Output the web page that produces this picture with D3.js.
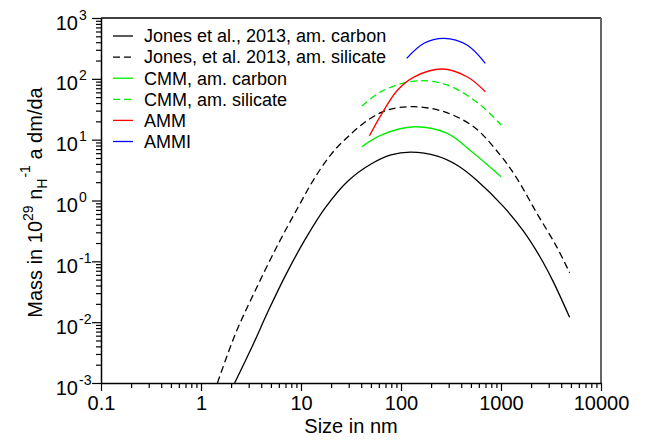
<!DOCTYPE html>
<html>
<head>
<meta charset="utf-8">
<script src="https://cdn.jsdelivr.net/npm/d3@7"></script>
<style>
  body { margin: 0; background: #fff; }
  text { font-family: 'Liberation Sans', Arial, sans-serif; fill: #000; }
</style>
</head>
<body>
<script>
const width = 655
const height = 441
const margin = { top: 18, right: 50, bottom: 58, left: 101 }

// sizes in nm, mass values
const jonesCarbonSize = [2.17, 3.24, 4.75, 7.21, 11.0, 17.3, 29.5, 50.2, 79.4, 125, 231, 365, 575, 1059, 1671, 2443, 3319, 4853]
const jonesCarbonMass = [0.001, 0.00394, 0.0158, 0.0646, 0.229, 0.741, 2.09, 3.98, 5.62, 6.24, 5.37, 3.80, 2.14, 0.794, 0.316, 0.120, 0.0468, 0.0120]
const jonesSilicateSize = [1.46, 2.22, 3.51, 5.97, 9.42, 13.3, 20.0, 29.5, 46.7, 73.6, 136, 269, 533, 979, 1435, 2265, 3573, 4853]
const jonesSilicateMass = [0.001, 0.00656, 0.0338, 0.198, 0.791, 2.17, 5.75, 11.2, 21.0, 30.8, 34.8, 28.8, 16.3, 5.62, 2.34, 0.631, 0.178, 0.065]
const cmmCarbonSize = [40.6, 63.2, 136, 290, 533, 1000]
const cmmCarbonMass = [7.65, 11.9, 16.3, 12.7, 5.97, 2.46]
const cmmSilicateSize = [40.6, 63.1, 136, 290, 621, 1000]
const cmmSilicateMass = [35.7, 61.5, 92, 79.3, 37.2, 17.4]
const ammSize = [48.4, 63.1, 92.5, 136, 259, 457, 697]
const ammMass = [11.6, 25.4, 65.5, 108, 145, 108, 61.5]
const ammiSize = [114, 170, 269, 457, 697]
const ammiMass = [217, 384, 463, 360, 180]

const xTicks = [0.1, 1, 10, 100, 1000, 10000]
const yExponents = [-3, -2, -1, 0, 1, 2, 3]

const series = [
  { label: 'Jones et al., 2013, am. carbon', size: jonesCarbonSize, mass: jonesCarbonMass, color: '#000', dash: null },
  { label: 'Jones, et al. 2013, am. silicate', size: jonesSilicateSize, mass: jonesSilicateMass, color: '#000', dash: '7,4' },
  { label: 'CMM, am. carbon', size: cmmCarbonSize, mass: cmmCarbonMass, color: '#00ee00', dash: null },
  { label: 'CMM, am. silicate', size: cmmSilicateSize, mass: cmmSilicateMass, color: '#00ee00', dash: '7,4' },
  { label: 'AMM', size: ammSize, mass: ammMass, color: '#ff0000', dash: null },
  { label: 'AMMI', size: ammiSize, mass: ammiMass, color: '#0000ff', dash: null }
]

const svg = d3.select('body')
  .append('svg')
  .attr('width', width)
  .attr('height', height)

const x = d3.scaleLog()
  .domain([0.1, 10000])
  .range([margin.left, width - margin.right - 4])

const y = d3.scaleLog()
  .domain([1e-3, 1e3])
  .range([height - margin.bottom, margin.top])

const minorX = []
for (let d = 0.1; d < 10000; d *= 10) {
  for (let k = 2; k < 10; k++) minorX.push(d * k)
}
const minorY = []
for (let e = -3; e < 3; e++) {
  for (let k = 2; k < 10; k++) minorY.push(k * Math.pow(10, e))
}

const x0 = x.range()[0]
const x1 = x.range()[1]
const y0 = y.range()[0]
const y1 = y.range()[1]

// frame top and right
svg.append('line')
  .attr('x1', x0).attr('x2', x1).attr('y1', y1).attr('y2', y1)
  .attr('stroke', '#000').attr('stroke-width', 1.5)
svg.append('line')
  .attr('x1', x1).attr('x2', x1).attr('y1', y1).attr('y2', y0)
  .attr('stroke', '#666').attr('stroke-width', 2)

// x axis
svg.append('g')
  .attr('transform', `translate(0,${ y0 })`)
  .call(d3.axisBottom(x).tickValues(minorX).tickSize(5).tickFormat(''))
  .call(g => g.select('.domain').remove())
const xAxis = svg.append('g')
  .attr('transform', `translate(0,${ y0 })`)
  .call(d3.axisBottom(x).tickValues(xTicks).tickSize(8).tickSizeOuter(0).tickFormat(d => String(d)))
xAxis.selectAll('text')
  .attr('y', 13)
  .attr('dy', '0.71em')
  .style('font-size', '20px')

// y axis
svg.append('g')
  .attr('transform', `translate(${ x0 },0)`)
  .call(d3.axisLeft(y).tickValues(minorY).tickSize(5).tickFormat(''))
  .call(g => g.select('.domain').remove())
const yAxis = svg.append('g')
  .attr('transform', `translate(${ x0 },0)`)
  .call(d3.axisLeft(y).tickValues(yExponents.map(e => Math.pow(10, e))).tickSize(9).tickSizeOuter(0).tickFormat(''))
yAxis.selectAll('.tick')
  .append('text')
  .attr('x', -23)
  .attr('y', 11)
  .attr('text-anchor', 'end')
  .style('font-size', '20px')
  .text('10')
yAxis.selectAll('.tick')
  .append('text')
  .attr('x', -22)
  .attr('y', 1)
  .attr('text-anchor', 'start')
  .style('font-size', '14px')
  .text(d => String(Math.round(Math.log10(d))))

svg.selectAll('.domain').attr('stroke-width', 1.5)
svg.selectAll('.tick line').attr('stroke-width', 1.2)

// axis titles
svg.append('text')
  .attr('x', (x0 + x1) / 2)
  .attr('y', 433)
  .attr('text-anchor', 'middle')
  .style('font-size', '20px')
  .text('Size in nm')

const yTitle = svg.append('text')
  .attr('transform', `translate(42,${ (y0 + y1) / 2 + 2 }) rotate(-90)`)
  .attr('text-anchor', 'middle')
  .style('font-size', '20px')
yTitle.append('tspan').text('Mass in 10')
yTitle.append('tspan').attr('dy', -9).style('font-size', '14px').text('29')
yTitle.append('tspan').attr('dy', 9).text(' n')
yTitle.append('tspan').attr('dy', 5).style('font-size', '14px').text('H')
yTitle.append('tspan').attr('dy', -17).attr('dx', 1).style('font-size', '14px').text('-1')
yTitle.append('tspan').attr('dy', 12).text('  a dm/da')

// curves
const line = d3.line()
  .x(d => x(d[0]))
  .y(d => y(d[1]))
  .curve(d3.curveCatmullRom.alpha(0.5))

svg.append('g')
  .selectAll('path')
  .data(series)
  .enter()
  .append('path')
  .attr('d', d => line(d.size.map((s, i) => [s, d.mass[i]])))
  .attr('fill', 'none')
  .attr('stroke', d => d.color)
  .attr('stroke-width', 1.3)
  .attr('stroke-dasharray', d => d.dash)

// legend
const legend = svg.append('g')
  .selectAll('g')
  .data(series)
  .enter()
  .append('g')
  .attr('transform', (d, i) => `translate(113,${ 36 + i * 21.1 })`)

legend.append('line')
  .attr('x1', 0)
  .attr('x2', 20)
  .attr('stroke', d => d.color)
  .attr('stroke-width', 1.3)
  .attr('stroke-dasharray', d => d.dash)

legend.append('text')
  .attr('x', 31)
  .attr('dy', '0.35em')
  .style('font-size', '18px')
  .text(d => d.label)
</script>
</body>
</html>
